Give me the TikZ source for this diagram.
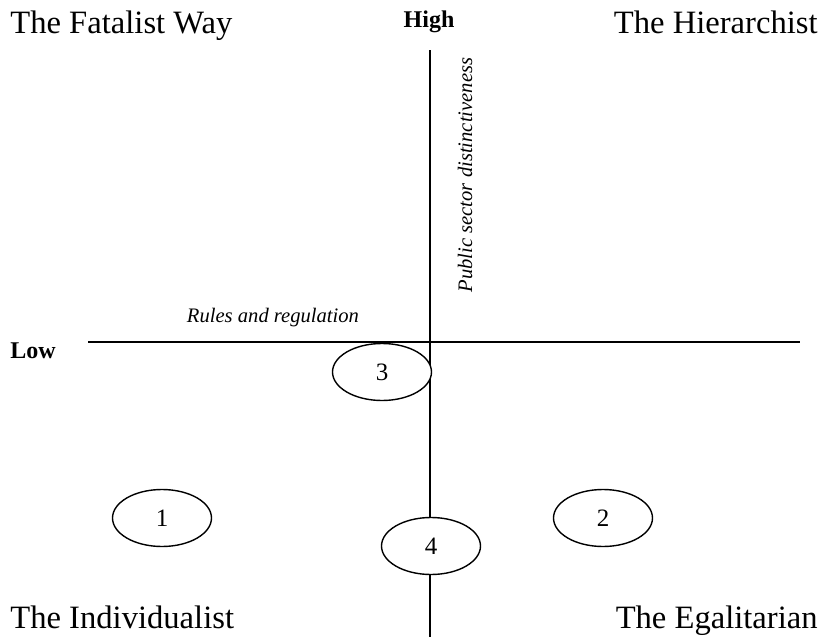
\documentclass[tikz,border=0pt]{standalone}
\usepackage{fontspec}
\setmainfont{Liberation Serif}
\usetikzlibrary{shapes.geometric}

\begin{document}
\begin{tikzpicture}[
		x=0.5pt, y=-0.5pt,
		quadrant/.style={font=\fontsize{16.3}{18}\selectfont, inner sep=0pt},
		level/.style={font=\fontsize{12}{14}\selectfont\bfseries, inner sep=0pt},
		axistext/.style={font=\fontsize{10.3}{12}\selectfont\itshape, inner sep=0pt},
		group/.style={draw, ellipse, fill=white, line width=0.7pt, minimum width=49.5pt, minimum height=28.5pt, inner sep=0pt, font=\fontsize{12.5}{14}\selectfont},
		axis/.style={line width=0.8pt}
	]
		\useasboundingbox (0, 0) rectangle (826, 637);

		\coordinate (top) at (430, 50);
		\coordinate (bottom) at (430, 637);
		\coordinate (left) at (88, 342);
		\coordinate (right) at (800, 342);

		\node[quadrant, anchor=base west] (fatalist) at (10, 33) {The Fatalist Way};
		\node[quadrant, anchor=base east] (hierarchist) at (818, 33) {The Hierarchist};
		\node[quadrant, anchor=base west] (individualist) at (10, 628) {The Individualist};
		\node[quadrant, anchor=base east] (egalitarian) at (818, 628) {The Egalitarian};

		\node[level] (high) at (429, 22) {High};
		\node[level, anchor=west] (low) at (10, 351) {Low};
		\node[axistext] (rules) at (273, 318) {Rules and regulation};
		\node[axistext, rotate=90] (public) at (465, 175) {Public sector distinctiveness};

		\draw[axis] (left) -- (right);
		\draw[axis] (top) -- (bottom);

		\node[group] (g3) at (382, 372) {3};
		\node[group] (g1) at (162, 518) {1};
		\node[group] (g2) at (603, 518) {2};
		\node[group] (g4) at (431, 546) {4};
	\end{tikzpicture}
\end{document}
